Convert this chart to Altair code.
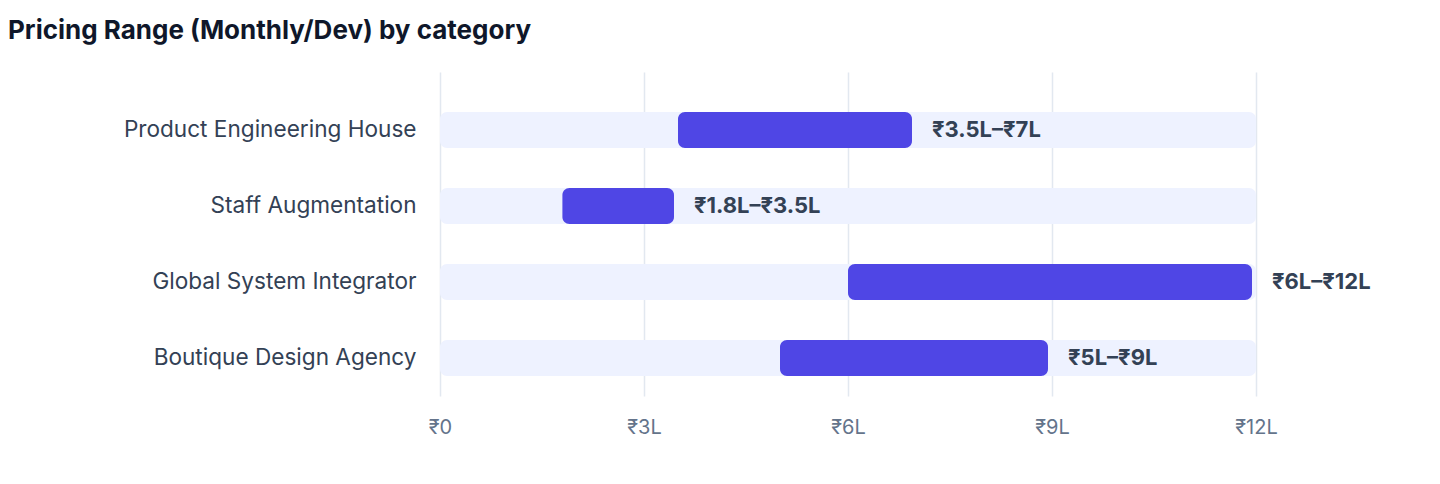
import altair as alt
import pandas as pd

categories = ["Product Engineering House", "Staff Augmentation", "Global System Integrator", "Boutique Design Agency"]
low = [3.5, 1.8, 6, 5]
high = [7, 3.5, 12, 9]
range_labels = ["₹3.5L–₹7L", "₹1.8L–₹3.5L", "₹6L–₹12L", "₹5L–₹9L"]
axis_max = 12
tick_values = [0, 3, 6, 9, 12]

df = pd.DataFrame({"category": categories, "low": low, "high": high, "label": range_labels})

FONT = "Inter"

y_enc = alt.Y(
    "category:N",
    sort=categories,
    title=None,
    scale=alt.Scale(paddingInner=0.526, paddingOuter=0.395, align=0.667),
    axis=alt.Axis(
        domain=False, ticks=False, labelFontSize=22.6, labelColor="#334155",
        labelFont=FONT, labelPadding=24, labelLimit=420, minExtent=432, maxExtent=432,
    ),
)

x_scale = alt.Scale(domain=[0, axis_max], nice=False)

bg = alt.Chart(df).mark_bar(color="#EEF2FF", cornerRadius=7).encode(
    y=y_enc,
    x=alt.X(
        "zero:Q",
        scale=x_scale,
        title=None,
        axis=alt.Axis(
            values=tick_values,
            labelExpr="datum.value == 0 ? '₹0' : '₹' + datum.value + 'L'",
            domain=False, ticks=False, grid=True, gridColor="#E2E8F0", gridWidth=1.5,
            labelFontSize=20, labelColor="#64748B", labelFont=FONT, labelPadding=21,
            labelFlush=False,
        ),
    ),
    x2="full:Q",
).transform_calculate(zero="0", full=str(axis_max))

fg = alt.Chart(df).mark_bar(color="#4F46E5", cornerRadius=7, x2Offset=-4).encode(
    y=alt.Y("category:N", sort=categories),
    x=alt.X("low:Q", scale=x_scale),
    x2="high:Q",
)

txt = alt.Chart(df).mark_text(
    align="left", baseline="middle", dx=16, fontSize=22, fontWeight="bold",
    color="#334155", font=FONT,
).encode(
    y=alt.Y("category:N", sort=categories),
    x=alt.X("high:Q", scale=x_scale),
    text="label:N",
)

chart = alt.layer(bg, fg, txt).properties(
    width=816,
    height=324,
    padding={"left": 0, "top": 10, "right": 10, "bottom": 10},
    title=alt.TitleParams(
        "Pricing Range (Monthly/Dev) by category",
        anchor="start", frame="bounds", fontSize=26, fontWeight="bold",
        color="#0F172A", font=FONT, offset=28,
    ),
).configure_view(stroke=None)

chart.save("out.html", embed_options={"renderer": "svg", "actions": False})
